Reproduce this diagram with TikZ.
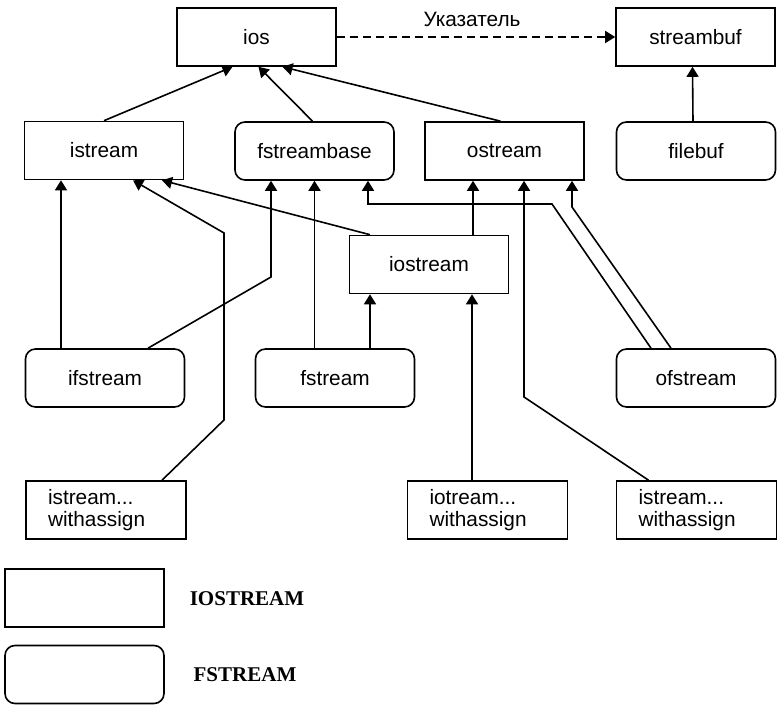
\documentclass[tikz,border=0pt]{standalone}
\usepackage{fontspec}
\setmainfont{Liberation Sans}
\newfontfamily\legendfont{Liberation Serif}
\usetikzlibrary{arrows.meta}

\begin{document}
\begin{tikzpicture}[x=0.5pt,y=-0.5pt,line width=0.8pt]
                \useasboundingbox (0,0) rectangle (777,705);
                \tikzstyle{cls}=[draw,minimum width=79.5pt,minimum height=29pt,font=\fontsize{10.4}{11}\selectfont]
                \tikzstyle{fcls}=[cls,rounded corners=5pt]
                \tikzstyle{wcls}=[cls,align=left,text width=58pt,inner xsep=11pt]
                \tikzstyle{arr}=[-{Triangle[length=5pt,width=6pt]}]
                \newcommand\klass[5]{\node[#1] at (#2,#3) (#4) {#5};}
                \klass{cls}{256.5}{37}{ios}{ios};
                \klass{cls}{695.5}{37}{streambuf}{streambuf};
                \klass{cls}{104}{150.5}{istream}{istream};
                \klass{fcls}{314.5}{151}{fstreambase}{fstreambase};
                \klass{cls}{504.5}{151}{ostream}{ostream};
                \klass{fcls}{696}{151}{filebuf}{filebuf};
                \klass{cls}{429}{264.5}{iostream}{iostream};
                \klass{fcls}{105}{378}{ifstream}{ifstream};
                \klass{fcls}{335}{378}{fstream}{fstream};
                \klass{fcls}{696}{378}{ofstream}{ofstream};
                \klass{wcls}{106}{510}{iswl}{istream...\\withassign};
                \klass{wcls}{487.5}{510}{iow}{iotream...\\withassign};
                \klass{wcls}{696.5}{510}{iswr}{istream...\\withassign};
                \klass{cls}{84.5}{598}{legio}{};
                \klass{fcls}{84.5}{674.5}{legf}{};
                \node[font=\legendfont\bfseries\fontsize{10.5}{12}\selectfont] at (247,599) (tio) {IOSTREAM};
                \node[font=\legendfont\bfseries\fontsize{10.5}{12}\selectfont] at (245,675) (tf) {FSTREAM};
                % top level
                \draw[arr] (istream.north) -- ([xshift=-12pt]ios.south);
                \draw[arr] ([xshift=-1pt]fstreambase.north) -- ([xshift=1pt]ios.south);
                \draw[arr] ([xshift=-2pt]ostream.north) -- ([xshift=13pt]ios.south);
                \draw[arr,dash pattern=on 4pt off 2.5pt] (ios.east) -- (streambuf.west)
                    node[midway,above=1.5pt,font=\fontsize{10.4}{11}\selectfont,xshift=-2pt] (ptr) {Указатель};
                \draw[arr] ([xshift=-1.5pt]filebuf.north) -- ([xshift=-1.5pt]streambuf.south);
                % middle level
                \draw[arr] ([xshift=-22pt]ifstream.north) -- ([xshift=-21.5pt]istream.south);
                \draw[arr] ([xshift=21.5pt]ifstream.north) -- (271,277) -- ([xshift=-21.75pt]fstreambase.south);
                \draw[arr] ([xshift=28pt]iswl.north) -- (224,420) -- (224,233) -- ([xshift=14.5pt]istream.south);
                \draw[arr] ([xshift=-29.5pt]iostream.north) -- ([xshift=29pt]istream.south);
                \draw[arr] (fstreambase.south |- fstream.north) -- (fstreambase.south);
                \draw[arr] ([xshift=-22.5pt]ofstream.north) -- (552,204) -- (368,204) -- ([xshift=26.75pt]fstreambase.south);
                \draw[arr] ([xshift=-12.5pt]ofstream.north) -- (572,207) -- ([xshift=33.75pt]ostream.south);
                \draw[arr] ([xshift=17.5pt]fstream.north) -- ([xshift=-29.5pt]iostream.south);
                \draw[arr] ([xshift=22pt]iostream.north) -- ([xshift=-15.75pt]ostream.south);
                \draw[arr] ([xshift=-7.75pt]iow.north) -- ([xshift=21.5pt]iostream.south);
                \draw[arr] ([xshift=-24pt]iswr.north) -- (524,397) -- ([xshift=9.75pt]ostream.south);
            \end{tikzpicture}
\end{document}
